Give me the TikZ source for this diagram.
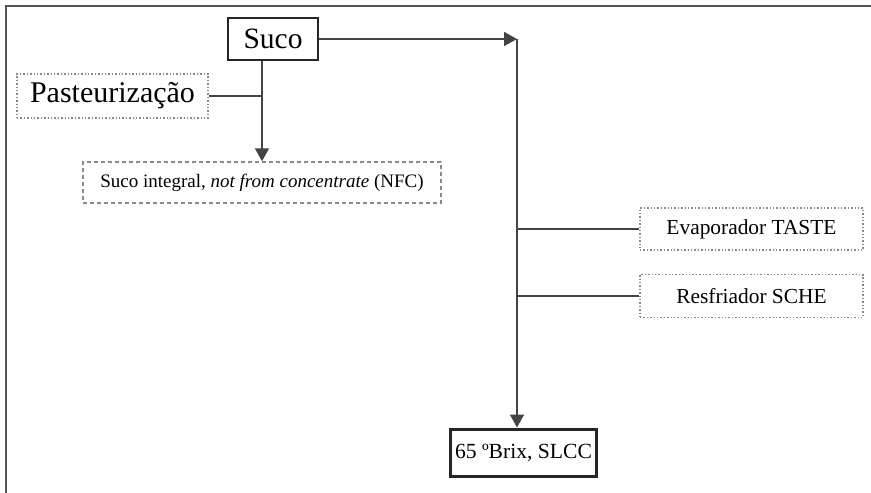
\documentclass[tikz,border=0pt]{standalone}
\usepackage{fontspec}
\setmainfont{Liberation Serif}
\usetikzlibrary{arrows.meta}
\definecolor{frm}{HTML}{555555}
\definecolor{ln}{HTML}{444444}
\definecolor{dt}{HTML}{8A8A8A}
\begin{document}
\begin{tikzpicture}[x=1pt,y=-1pt,
  solidbox/.style={draw=black!85,line width=1.5pt,inner sep=0pt,align=center},
  dotbox/.style={draw=dt,dotted,line width=1.4pt,inner sep=0pt,align=center},
  dashbox/.style={draw=dt,dash pattern=on 4pt off 3pt,line width=1.5pt,inner sep=0pt,align=center},
  conn/.style={draw=ln,line width=1.8pt},
  arr/.style={conn,-{Triangle[length=13pt,width=14pt]}}]
\useasboundingbox (0,0) rectangle (871,493);
\fill[white] (0,0) rectangle (871,493);
\draw[frm,line width=2pt] (6,493) -- (6,6) -- (871,6);
\node[solidbox,minimum width=90pt,minimum height=42pt,font=\fontsize{29.5}{32}\selectfont] (suco) at (273,39) {Suco};
\node[dotbox,minimum width=191pt,minimum height=44pt,font=\fontsize{30}{33}\selectfont] (past) at (112.5,96) {Pasteurização};
\node[dashbox,minimum width=358pt,minimum height=41pt,font=\fontsize{19}{22}\selectfont] (nfc) at (262,182.5) {Suco integral, \textit{not from concentrate} (NFC)};
\node[dotbox,minimum width=223pt,minimum height=42pt,font=\fontsize{21.4}{24}\selectfont] (evap) at (751.5,229) {Evaporador TASTE};
\node[dotbox,minimum width=223pt,minimum height=43pt,font=\fontsize{21.4}{24}\selectfont] (resf) at (751.5,296) {Resfriador SCHE};
\node[solidbox,line width=3pt,minimum width=146pt,minimum height=47pt,font=\fontsize{21.6}{24}\selectfont] (brix) at (523.5,452.5) {65 ºBrix, SLCC};
\coordinate (turn) at (517,39);
\draw[arr] (nfc.north |- suco.south) -- (nfc.north);
\draw[conn] (past.east) -- (nfc.north |- past.east);
\draw[arr] (suco.east) -- (turn);
\draw[arr] (turn) -- (turn |- brix.north);
\draw[conn] (evap.west) -- (turn |- evap.west);
\draw[conn] (resf.west) -- (turn |- resf.west);
\end{tikzpicture}
\end{document}
